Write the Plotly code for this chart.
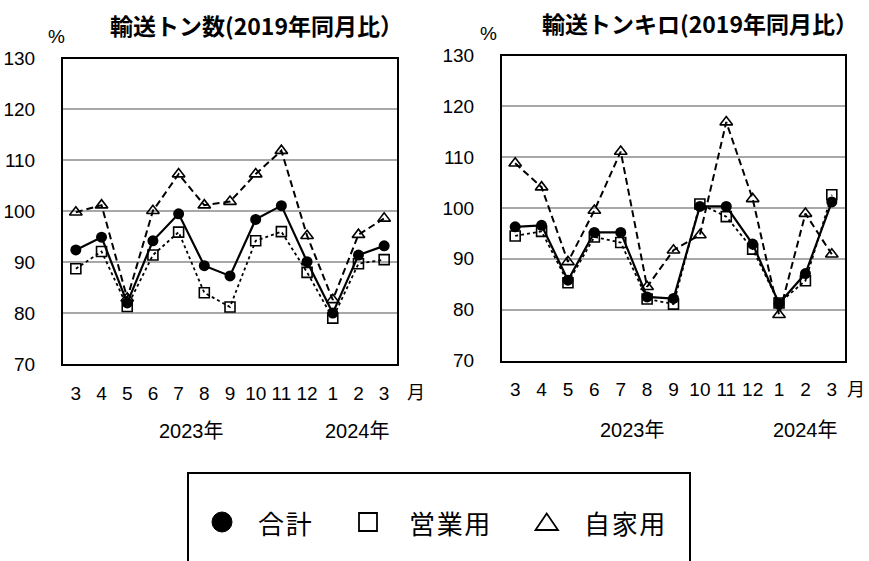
import plotly.graph_objects as go

W, H = 869, 561

months = ["3", "4", "5", "6", "7", "8", "9", "10", "11", "12", "1", "2", "3"]
years = ["2023年", "2024年"]
series_names = ["合計", "営業用", "自家用"]

# 輸送トン数 (2019年同月比, %)
ton_total = [92.4, 94.9, 82.0, 94.2, 99.5, 89.3, 87.3, 98.4, 101.1, 90.1, 80.0, 91.4, 93.2]
ton_business = [88.7, 92.1, 81.3, 91.4, 95.9, 84.0, 81.2, 94.2, 96.0, 88.0, 79.0, 89.7, 90.5]
ton_private = [99.8, 101.2, 82.9, 100.1, 107.3, 101.2, 101.9, 107.3, 111.9, 95.2, 82.6, 95.4, 98.6]

# 輸送トンキロ (2019年同月比, %)
tkm_total = [96.3, 96.6, 85.8, 95.2, 95.2, 82.5, 82.2, 100.3, 100.3, 92.9, 81.2, 87.1, 101.2]
tkm_business = [94.5, 95.4, 85.3, 94.3, 93.2, 82.1, 81.1, 100.8, 98.3, 91.9, 81.3, 85.7, 102.6]
tkm_private = [108.8, 104.1, 89.4, 99.5, 111.1, 84.5, 91.7, 94.7, 116.9, 101.8, 79.0, 98.9, 90.9]

titles = ["輸送トン数(2019年同月比）", "輸送トンキロ(2019年同月比）"]

FONT = "Liberation Sans, Arial, Noto Sans CJK JP, sans-serif"
CJK = "Noto Sans CJK JP, sans-serif"

def px(x):
    return x / W

def py(y):
    return 1 - y / H

xs = list(range(len(months)))

fig = go.Figure()

panels = [
    (ton_total, ton_business, ton_private, "x", "y"),
    (tkm_total, tkm_business, tkm_private, "x2", "y2"),
]

for tot, bus, pri, xa, ya in panels:
    fig.add_trace(go.Scatter(
        x=xs, y=bus, name=series_names[1], mode="lines+markers", xaxis=xa, yaxis=ya,
        line=dict(color="black", width=1.8, dash="dot"),
        marker=dict(symbol="square-open", size=10, color="black", line=dict(width=1.6)),
        showlegend=False, cliponaxis=False))
    fig.add_trace(go.Scatter(
        x=xs, y=pri, name=series_names[2], mode="lines+markers", xaxis=xa, yaxis=ya,
        line=dict(color="black", width=2, dash="7px,4px"),
        marker=dict(symbol="triangle-up-open", size=11, color="black", line=dict(width=1.6)),
        showlegend=False, cliponaxis=False))
    fig.add_trace(go.Scatter(
        x=xs, y=tot, name=series_names[0], mode="lines+markers", xaxis=xa, yaxis=ya,
        line=dict(color="black", width=2.2),
        marker=dict(symbol="circle", size=11, color="black"),
        showlegend=False, cliponaxis=False))

xcommon = dict(range=[-0.5, 12.5], tickmode="array", tickvals=xs, ticktext=months,
               showgrid=False, zeroline=False, showline=True, mirror=True,
               linecolor="black", linewidth=2, ticks="", automargin=False,
               tickfont=dict(family=FONT, size=19, color="black"), ticklabelstandoff=11)
ycommon = dict(range=[70, 130], dtick=10, tick0=70, showgrid=True, gridcolor="#a8a8a8",
               gridwidth=1.5, zeroline=False, showline=True, mirror=True,
               linecolor="black", linewidth=2, ticks="", automargin=False,
               tickfont=dict(family=FONT, size=19, color="black"), ticklabelstandoff=22)

fig.update_layout(
    width=W, height=H, margin=dict(l=0, r=0, t=0, b=0, autoexpand=False),
    paper_bgcolor="white", plot_bgcolor="white", showlegend=False,
    xaxis=dict(domain=[px(63), px(397)], anchor="y", **xcommon),
    yaxis=dict(domain=[py(364), py(58.5)], anchor="x", **ycommon),
    xaxis2=dict(domain=[px(502), px(845)], anchor="y2", **xcommon),
    yaxis2=dict(domain=[py(360.5), py(55.5)], anchor="x2", **ycommon),
)

ann = []
def text(x, y, s, size=17, family=FONT, xanchor="center", bold=False):
    ann.append(dict(x=px(x), y=py(y), xref="paper", yref="paper", text=s, showarrow=False,
                    xanchor=xanchor, yanchor="middle",
                    font=dict(family=family, size=size, color="black",
                              weight="bold" if bold else "normal")))

# titles
text(108, 25, titles[0], size=23, family=CJK, xanchor="left", bold=True)
text(540, 23, titles[1], size=23, family=CJK, xanchor="left", bold=True)
# percent signs
text(56, 37, "%", size=19)
text(488, 33, "%", size=19)
# month unit
text(416, 391, "月", size=18, family=CJK)
text(856, 388, "月", size=18, family=CJK)
# years
text(191, 431, years[0], size=20)
text(357, 431, years[1], size=20)
text(632, 430, years[0], size=20)
text(805, 430, years[1], size=20)
# legend labels
text(285, 522, "合\u200a計", size=26, family=CJK)
text(449, 522, "営\u200a業\u200a用", size=26, family=CJK)
text(624, 522, "自\u200a家\u200a用", size=26, family=CJK)

shapes = [
    dict(type="rect", xref="paper", yref="paper", x0=px(188), x1=px(690), y0=py(600), y1=py(473),
         line=dict(color="black", width=2), fillcolor="rgba(0,0,0,0)"),
    dict(type="circle", xref="paper", yref="paper", x0=px(212), x1=px(232), y0=py(532), y1=py(512),
         line=dict(color="black", width=1), fillcolor="black"),
    dict(type="rect", xref="paper", yref="paper", x0=px(359), x1=px(377), y0=py(531), y1=py(513),
         line=dict(color="black", width=1.8), fillcolor="rgba(0,0,0,0)"),
    dict(type="path", xref="paper", yref="paper",
         path=f"M {px(546.7)} {py(513.5)} L {px(535.5)} {py(530)} L {px(558)} {py(530)} Z",
         line=dict(color="black", width=1.8), fillcolor="rgba(0,0,0,0)"),
]

fig.update_layout(annotations=ann, shapes=shapes)
fig.write_html("out.html", config={"displayModeBar": False},
               post_script="document.body.style.margin='0';document.body.style.overflow='hidden';")
